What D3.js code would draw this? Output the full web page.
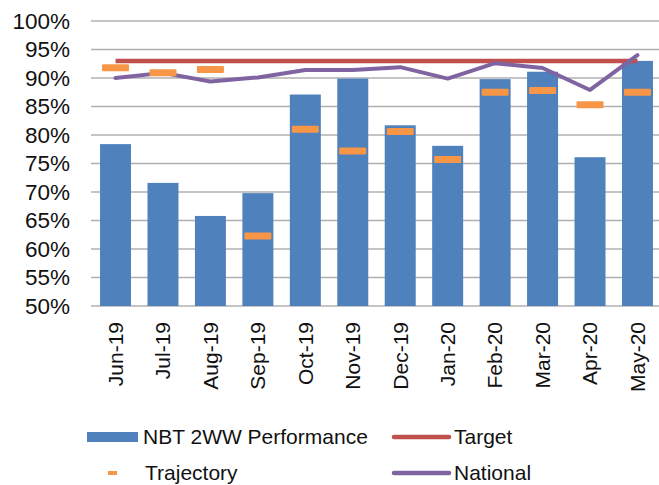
<!DOCTYPE html>
<html>
<head>
<meta charset="utf-8">
<script src="https://cdn.jsdelivr.net/npm/d3@7"></script>
<style>
  html, body { margin: 0; padding: 0; background: #fff; }
  svg { display: block; font-family: "Liberation Sans", Arial, sans-serif; }
</style>
</head>
<body>
<svg id="chart" width="659" height="485"></svg>
<script>
const categories = ["Jun-19","Jul-19","Aug-19","Sep-19","Oct-19","Nov-19","Dec-19","Jan-20","Feb-20","Mar-20","Apr-20","May-20"];
const performance = [78.4, 71.6, 65.8, 69.8, 87.1, 89.9, 81.7, 78.1, 89.8, 91.1, 76.1, 93.0];
const trajectory = [91.8, 90.9, 91.5, 62.3, 81.0, 77.2, 80.6, 75.7, 87.5, 87.8, 85.3, 87.5];
const target = [93, 93, 93, 93, 93, 93, 93, 93, 93, 93, 93, 93];
const national = [90.0, 90.9, 89.4, 90.1, 91.4, 91.4, 91.9, 89.9, 92.6, 91.75, 87.9, 94.0];
const yTicks = [50, 55, 60, 65, 70, 75, 80, 85, 90, 95, 100];
const legendItems = [
  {name: "NBT 2WW Performance", type: "bar", color: "#4F81BD"},
  {name: "Target", type: "line", color: "#C0504D"},
  {name: "Trajectory", type: "dash", color: "#F79646"},
  {name: "National", type: "line", color: "#8064A2"}
];

(function () {
const svg = d3.select("#chart");
const pLeft = 91.8, pRight = 661.2, pTop = 21, pBottom = 306;

const x = d3.scaleBand().domain(categories).range([pLeft, pRight]).paddingInner(0.347).paddingOuter(0.1735);
const y = d3.scaleLinear().domain([50, 100]).range([pBottom, pTop]);
const cx = c => x(c) + x.bandwidth() / 2;

// gridlines
svg.append("g").selectAll("line").data(yTicks).join("line")
  .attr("x1", 91).attr("x2", 659)
  .attr("y1", d => y(d)).attr("y2", d => y(d))
  .attr("stroke", "#b0b0b0").attr("stroke-width", 1.4);

// y axis labels
const yAxis = d3.axisLeft(y).tickValues(yTicks).tickFormat(d => d + "%").tickSize(0).tickPadding(0);
const yg = svg.append("g").attr("transform", "translate(70,0)").call(yAxis);
yg.select(".domain").remove();
yg.selectAll("text").attr("font-size", 22.5).attr("fill", "#111")
  .attr("font-family", "'Liberation Sans', Arial, sans-serif");

// bars
svg.append("g").selectAll("rect").data(categories).join("rect")
  .attr("x", d => x(d)).attr("width", x.bandwidth())
  .attr("y", (d, i) => y(performance[i]))
  .attr("height", (d, i) => pBottom - y(performance[i]))
  .attr("fill", "#4F81BD");

// target line
const line = d3.line().x((d, i) => cx(categories[i])).y(d => y(d));
svg.append("path").datum(target).attr("d", line)
  .attr("fill", "none").attr("stroke", "#C0504D").attr("stroke-width", 4.5);

// national line
svg.append("path").datum(national).attr("d", line)
  .attr("fill", "none").attr("stroke", "#8064A2").attr("stroke-width", 4)
  .attr("stroke-linejoin", "round").attr("stroke-linecap", "round");

// trajectory dashes
svg.append("g").selectAll("rect").data(trajectory).join("rect")
  .attr("x", (d, i) => cx(categories[i]) - 13.5).attr("width", 27)
  .attr("y", d => y(d) - 3.5).attr("height", 7)
  .attr("rx", 1)
  .attr("fill", "#F79646");

// x axis labels
svg.append("g").selectAll("text").data(categories).join("text")
  .attr("transform", d => `translate(${cx(d)},322) rotate(-90)`)
  .attr("text-anchor", "end").attr("dy", "0.35em")
  .attr("font-size", 21).attr("fill", "#111")
  .text(d => d);

// legend
const legPos = [
  {sx: 87, tx: 143, cy: 437},
  {sx: 394, tx: 454, cy: 437},
  {sx: 108, tx: 145, cy: 473},
  {sx: 394, tx: 454, cy: 473}
];
const lg = svg.append("g");
legendItems.forEach((it, i) => {
  const p = legPos[i];
  if (it.type === "bar") {
    lg.append("rect").attr("x", p.sx).attr("y", p.cy - 5).attr("width", 51).attr("height", 10).attr("fill", it.color);
  } else if (it.type === "line") {
    lg.append("line").attr("x1", p.sx).attr("x2", p.sx + 55).attr("y1", p.cy).attr("y2", p.cy)
      .attr("stroke", it.color).attr("stroke-width", 4.5).attr("stroke-linecap", "round");
  } else {
    lg.append("rect").attr("x", p.sx).attr("y", p.cy - 2).attr("width", 9).attr("height", 4).attr("fill", it.color);
  }
  lg.append("text").attr("x", p.tx).attr("y", p.cy).attr("dy", "0.35em")
    .attr("font-size", 21).attr("fill", "#111").text(it.name);
});
})();
</script>
</body>
</html>
